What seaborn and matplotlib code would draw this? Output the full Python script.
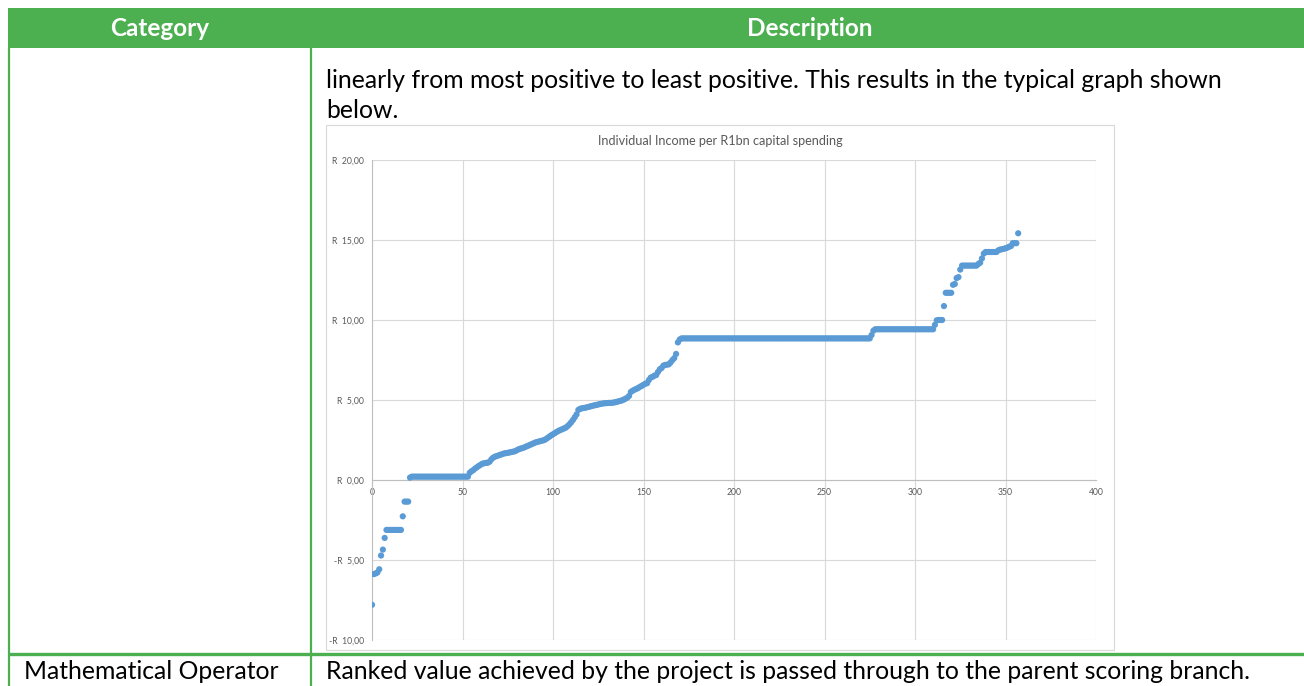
import numpy as np
import pandas as pd
import matplotlib
matplotlib.use("Agg")
import matplotlib.pyplot as plt
from matplotlib.patches import Rectangle
from matplotlib.lines import Line2D
from matplotlib.ticker import FuncFormatter
import seaborn as sns

# ---- text content -------------------------------------------------------
header_labels = ["Category", "Description"]
body_lines = [
    "linearly from most positive to least positive. This results in the typical graph shown",
    "below.",
]
footer_category = "Mathematical Operator"
footer_description = "Ranked value achieved by the project is passed through to the parent scoring branch."
chart_title = "Individual Income per R1bn capital spending"

# ---- ranked income values (R per R1bn capital spending), rank order ------
low_tail = [-7.80, -5.88, -5.84, -5.78, -5.58, -4.72, -4.35, -3.62]
step_a = [-3.12] * 9
step_b = [-2.27] + [-1.35] * 3
near_zero = [0.15] + [0.21] * 32
rise_1 = [
    0.45, 0.55, 0.62, 0.72, 0.80, 0.88, 0.95, 1.02, 1.05, 1.07,
    1.08, 1.15, 1.30, 1.40, 1.46, 1.50, 1.54, 1.58, 1.62, 1.66,
    1.68, 1.70, 1.72, 1.75, 1.77, 1.80, 1.86, 1.92, 1.96, 1.99,
    2.03, 2.08, 2.13, 2.18, 2.23, 2.28, 2.33, 2.37, 2.40, 2.43,
    2.46, 2.49, 2.55, 2.63, 2.71, 2.79, 2.86, 2.93, 3.00, 3.07,
    3.12, 3.17, 3.22, 3.27, 3.36, 3.47, 3.60, 3.75, 3.92, 4.10,
    4.38, 4.45, 4.48, 4.50, 4.52,
]
rise_2 = [
    4.55, 4.58, 4.61, 4.64, 4.67, 4.69, 4.72, 4.75, 4.77, 4.79,
    4.80, 4.81, 4.82, 4.82, 4.83, 4.85, 4.88, 4.91, 4.94, 4.97,
    5.02, 5.08, 5.14, 5.25, 5.50, 5.58, 5.64, 5.69, 5.75, 5.82,
    5.88, 5.95, 6.02, 6.05, 6.25, 6.40, 6.45, 6.52, 6.56, 6.75,
    6.92, 7.00, 7.15, 7.19, 7.21, 7.23, 7.35, 7.50, 7.62, 7.88,
    8.60, 8.78,
]
plateau_main = [8.85] * 105
plateau_second = [9.06, 9.33] + [9.42] * 33
top_tail = (
    [9.70, 9.98] + [10.00] * 3 + [10.87] + [11.70] * 4
    + [12.20, 12.25, 12.62, 12.68, 13.15] + [13.40] * 9
    + [13.50, 13.58, 13.85, 14.15] + [14.25] * 7
    + [14.35, 14.40, 14.42, 14.45, 14.48, 14.52, 14.58, 14.62]
    + [14.80] * 3 + [15.42]
)

income = (low_tail + step_a + step_b + near_zero + rise_1 + rise_2
          + plateau_main + plateau_second + top_tail)
ranks = list(range(len(income)))

y_ticks = [-10, -5, 0, 5, 10, 15, 20]
x_ticks = [0, 50, 100, 150, 200, 250, 300, 350, 400]

df = pd.DataFrame({"rank": ranks, "income": income})

# ---- styling -------------------------------------------------------------
sns.set_theme(style="white")
plt.rcParams["font.family"] = ["Lato", "DejaVu Sans"]

W, H = 1304, 686
fig = plt.figure(figsize=(W / 100, H / 100), dpi=100)
fig.patch.set_facecolor("white")

GREEN = "#4CAF50"
GRID = "#d9d9d9"
AXIS = "#bfbfbf"
LABEL = "#595959"
DOT = "#5B9BD5"
BODY_SIZE = 17.8


def fx(px):
    return px / W


def fy(py):
    return 1 - py / H


def hline(x0, x1, y, color, lw):
    fig.add_artist(Line2D([fx(x0), fx(x1)], [fy(y), fy(y)],
                          transform=fig.transFigure, color=color, lw=lw,
                          solid_capstyle="butt"))


def vline(x, y0, y1, color, lw):
    fig.add_artist(Line2D([fx(x), fx(x)], [fy(y0), fy(y1)],
                          transform=fig.transFigure, color=color, lw=lw,
                          solid_capstyle="butt"))


# table header band
fig.add_artist(Rectangle((fx(8), fy(48)), fx(1304) - fx(8), fy(8) - fy(48),
                         transform=fig.transFigure, facecolor=GREEN,
                         edgecolor="none"))
fig.text(fx(160), fy(28), header_labels[0], color="white", fontsize=17.5,
         fontweight="bold", ha="center", va="center")
fig.text(fx(810), fy(28), header_labels[1], color="white", fontsize=17.5,
         fontweight="bold", ha="center", va="center")

# table borders
vline(9, 48, 686, GREEN, 1.6)
vline(311, 48, 686, GREEN, 1.6)
hline(8, 1304, 654, GREEN, 2.4)

# body text
fig.text(fx(326), fy(81), body_lines[0], color="black", fontsize=BODY_SIZE,
         ha="left", va="center")
fig.text(fx(326), fy(111), body_lines[1], color="black", fontsize=BODY_SIZE,
         ha="left", va="center")
fig.text(fx(24), fy(679), footer_category, color="black", fontsize=BODY_SIZE,
         ha="left", va="baseline")
fig.text(fx(326), fy(679), footer_description, color="black",
         fontsize=BODY_SIZE, ha="left", va="baseline")

# chart frame and title
fig.add_artist(Rectangle((fx(326), fy(650)), fx(1114) - fx(326),
                         fy(125) - fy(650), transform=fig.transFigure,
                         facecolor="none", edgecolor=GRID, lw=0.8))
fig.text(fx(720), fy(141), chart_title, color=LABEL, fontsize=9.1,
         ha="center", va="center")

# ---- scatter chart -------------------------------------------------------
ax = fig.add_axes([fx(372), fy(640), fx(1096) - fx(372), fy(160) - fy(640)])
ax.set_facecolor("none")
sns.scatterplot(data=df, x="rank", y="income", ax=ax, s=20, color=DOT,
                edgecolor="none", linewidth=0, zorder=3)

ax.set_xlim(0, 400)
ax.set_ylim(-10, 20)
ax.set_xticks(x_ticks)
ax.set_yticks(y_ticks)


def rand_fmt(v, _pos):
    sign = "-" if v < 0 else ""
    return f"{sign}R  {abs(v):.2f}".replace(".", ",")


ax.yaxis.set_major_formatter(FuncFormatter(rand_fmt))
ax.grid(True, color=GRID, lw=0.8, zorder=0)
ax.set_axisbelow(True)
for side in ("top", "right"):
    ax.spines[side].set_visible(False)
ax.spines["bottom"].set_position(("data", 0))
ax.spines["bottom"].set_color(AXIS)
ax.spines["bottom"].set_linewidth(0.8)
ax.spines["left"].set_color(AXIS)
ax.spines["left"].set_linewidth(0.8)
ax.tick_params(axis="both", length=0, labelsize=6.2, labelcolor=LABEL)
ax.tick_params(axis="y", pad=6)
ax.tick_params(axis="x", pad=6)
ax.set_xlabel("")
ax.set_ylabel("")

fig.savefig("out.png", dpi=100, facecolor="white")
